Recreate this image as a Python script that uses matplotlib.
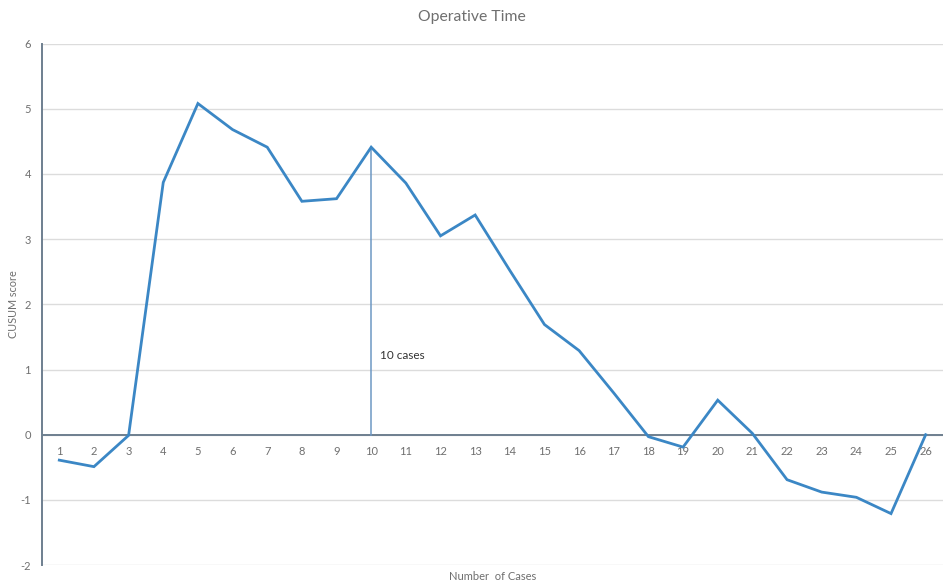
import matplotlib
matplotlib.use("Agg")
import matplotlib.pyplot as plt

# CUSUM score for operative time, one value per consecutive case
cases = list(range(1, 27))
cusum = [-0.39, -0.49, -0.01, 3.87, 5.08, 4.68, 4.41, 3.58, 3.62, 4.41,
         3.86, 3.05, 3.37, 2.52, 1.69, 1.29, 0.64, -0.03, -0.19, 0.53,
         0.02, -0.69, -0.88, -0.96, -1.21, 0.00]
y_ticks = [-2, -1, 0, 1, 2, 3, 4, 5, 6]
marker_case = 10
marker_label = "10 cases"

plt.rcParams["font.family"] = ["Lato", "DejaVu Sans"]

line_color = "#3b87c5"
text_gray = "#6f6f6f"
axis_color = "#6e7f8f"

fig = plt.figure(figsize=(9.43, 5.85), dpi=100)
ax = fig.add_axes([0.0445, 0.034, 0.9555, 0.8916])

ax.set_xlim(0.5, len(cases) + 0.5)
ax.set_ylim(-2, 6)

# horizontal gridlines
for yv in y_ticks:
    ax.axhline(yv, color="#dcdcdc", lw=1.0, zorder=0)
ax.axhline(0, color=axis_color, lw=1.4, zorder=1)

for side in ["top", "right", "bottom"]:
    ax.spines[side].set_visible(False)
ax.spines["left"].set_color(axis_color)
ax.spines["left"].set_linewidth(1.4)

ax.set_xticks([])
ax.set_yticks(y_ticks)
ax.set_yticklabels([str(v) for v in y_ticks], color=text_gray, fontsize=8)
ax.tick_params(axis="y", length=0, pad=8)

# category labels sit just under the zero line
for c in cases:
    ax.text(c, -0.26, str(c), ha="center", va="center",
            fontsize=8, color=text_gray)

# vertical marker at the learning-curve breakpoint
peak = cusum[cases.index(marker_case)]
ax.plot([marker_case, marker_case], [0, peak], color="#6d98c4", lw=1.1, zorder=2)
ax.text(marker_case + 0.25, 1.22, marker_label, fontsize=8.5,
        color="#333333", va="center", ha="left")

ax.plot(cases, cusum, color=line_color, lw=2.0, zorder=3,
        solid_joinstyle="miter")

fig.text(0.5, 0.971, "Operative Time", ha="center", va="center",
         fontsize=11.3, color=text_gray)
ax.set_ylabel("CUSUM score", fontsize=7.8, color=text_gray, labelpad=8)
ax.yaxis.set_label_coords(-0.025, 0.5)
fig.text(0.522, 0.014, "Number  of Cases", ha="center", va="center",
         fontsize=8, color=text_gray)

fig.savefig("out.png", dpi=100, facecolor="white")
